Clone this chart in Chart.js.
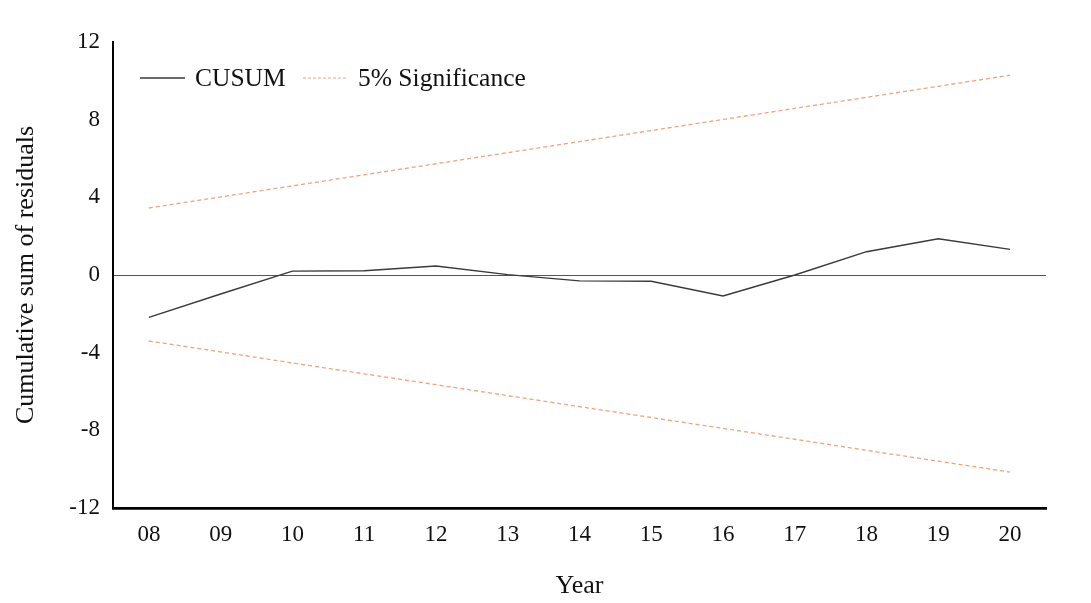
<!DOCTYPE html>
<html>
<head>
<meta charset="utf-8">
<script src="https://cdn.jsdelivr.net/npm/chart.js@4/dist/chart.umd.min.js"></script>
<style>
html,body{margin:0;padding:0;background:#fff;}
#wrap{width:1091px;height:603px;position:relative;}
</style>
</head>
<body>
<div id="wrap"><canvas id="c" width="1091" height="603"></canvas></div>
<script>
const years = ['08','09','10','11','12','13','14','15','16','17','18','19','20'];
const cusum = [-2.18, -0.98, 0.2, 0.22, 0.46, 0.02, -0.3, -0.32, -1.08, 0.0, 1.2, 1.87, 1.32];
const upper5 = [3.45, 4.02, 4.59, 5.16, 5.73, 6.30, 6.87, 7.44, 8.01, 8.58, 9.15, 9.72, 10.29];
const lower5 = [-3.40, -3.96, -4.53, -5.09, -5.65, -6.21, -6.78, -7.34, -7.90, -8.46, -9.03, -9.59, -10.15];
const yTicks = [-12, -8, -4, 0, 4, 8, 12];
const legendLabels = ['CUSUM', '5% Significance'];

const SERIF = '"Liberation Serif", "Times New Roman", serif';
const ORANGE = '#f2a27a';
const DARK = '#3a3a3a';

const legendPlugin = {
  id: 'customLegend',
  afterDraw(chart) {
    const ctx = chart.ctx;
    ctx.save();
    ctx.font = '25.5px ' + SERIF;
    ctx.fillStyle = '#111';
    ctx.textBaseline = 'middle';
    const y = 78;
    ctx.strokeStyle = DARK; ctx.lineWidth = 1.3; ctx.setLineDash([]);
    ctx.beginPath(); ctx.moveTo(140, y); ctx.lineTo(185, y); ctx.stroke();
    ctx.fillText(legendLabels[0], 195, y + 1);
    ctx.strokeStyle = ORANGE; ctx.lineWidth = 1.2; ctx.setLineDash([3, 2]);
    ctx.beginPath(); ctx.moveTo(303, y); ctx.lineTo(347, y); ctx.stroke();
    ctx.setLineDash([]);
    ctx.fillText(legendLabels[1], 358, y + 1);
    ctx.restore();
  }
};

new Chart(document.getElementById('c'), {
  type: 'line',
  data: {
    labels: years,
    datasets: [
      { label: legendLabels[0], data: cusum, borderColor: DARK, borderWidth: 1.4, pointRadius: 0, tension: 0, fill: false },
      { label: legendLabels[1], data: upper5, borderColor: ORANGE, borderWidth: 1.3, borderDash: [4, 3], pointRadius: 0, tension: 0, fill: false },
      { label: legendLabels[1] + ' lower', data: lower5, borderColor: ORANGE, borderWidth: 1.3, borderDash: [4, 3], pointRadius: 0, tension: 0, fill: false }
    ]
  },
  options: {
    responsive: false,
    animation: false,
    devicePixelRatio: 1,
    layout: { padding: { left: 0, right: 45, top: 42, bottom: 0 } },
    plugins: { legend: { display: false }, tooltip: { enabled: false } },
    scales: {
      x: {
        type: 'category',
        offset: true,
        grid: { display: false, drawTicks: false },
        border: { display: true, color: '#000', width: 2.8 },
        ticks: { color: '#111', font: { family: SERIF, size: 23 }, padding: 13, maxRotation: 0, autoSkip: false },
        title: { display: true, text: 'Year', color: '#111', font: { family: SERIF, size: 26 }, padding: { top: 0, bottom: 1 } },
        afterFit(s) { s.height = 95; }
      },
      y: {
        min: -12, max: 12,
        afterBuildTicks(s) { s.ticks = yTicks.map(v => ({ value: v })); },
        grid: {
          drawTicks: false,
          color: c => (c.tick && c.tick.value === 0) ? '#555' : 'rgba(0,0,0,0)',
          lineWidth: 1
        },
        border: { display: true, color: '#000', width: 2 },
        ticks: { color: '#111', font: { family: SERIF, size: 23 }, padding: 13 },
        title: { display: true, text: 'Cumulative sum of residuals', color: '#111', font: { family: SERIF, size: 26 }, padding: { top: 11, bottom: 0 } },
        afterFit(s) { s.width = 113; }
      }
    }
  },
  plugins: [legendPlugin]
});
</script>
</body>
</html>
